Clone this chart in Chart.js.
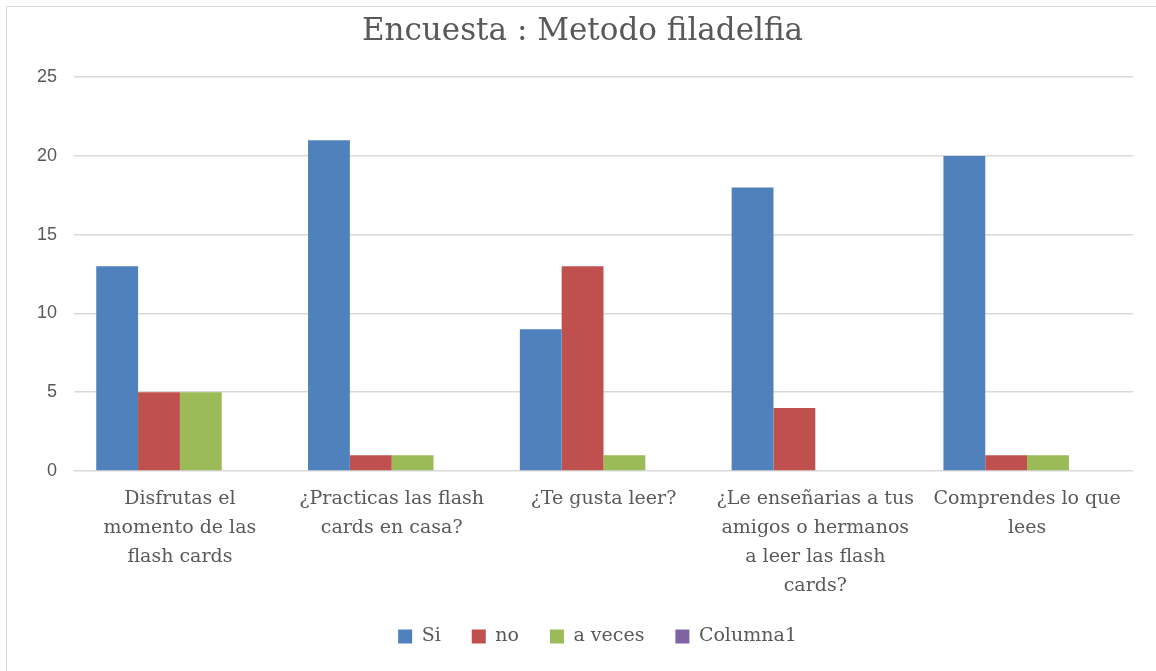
<!DOCTYPE html>
<html>
<head>
<meta charset="utf-8">
<script src="https://cdn.jsdelivr.net/npm/chart.js@4"></script>
<style>
  html, body { margin: 0; padding: 0; background: #fff; }
  #wrap { position: absolute; left: 6px; top: 6px; width: 1150px; height: 665px; border: 1px solid #d9d9d9; border-right: none; border-bottom: none; }
  canvas { position: absolute; left: 0; top: 0; }
</style>
</head>
<body>
<div id="wrap"></div>
<canvas id="c" width="1156" height="671"></canvas>
<script>
const categories = [
  ['Disfrutas el', 'momento de las', 'flash cards'],
  ['¿Practicas las flash', 'cards en casa?'],
  ['¿Te gusta leer?'],
  ['¿Le enseñarias a tus', 'amigos o hermanos', 'a leer las flash', 'cards?'],
  ['Comprendes lo que', 'lees']
]
const si = [13, 21, 9, 18, 20]
const no = [5, 1, 13, 4, 1]
const aVeces = [5, 1, 1, 0, 1]
const columna1 = [null, null, null, null, null]

const serif = "'DejaVu Serif', serif"
const gray = '#595959'

const bar = (label, data, color) => ({ label, data, backgroundColor: color, borderWidth: 0 })

// nudge title and legend a bit to the right, like the original
const nudge = {
  id: 'nudge',
  afterLayout(chart) {
    const shift = (box, d) => { if (box) { box.left += d; box.right += d } }
    shift(chart.titleBlock, 6)
    shift(chart.legend, 21)
  }
}

new Chart(document.getElementById('c'), {
  type: 'bar',
  data: {
    labels: categories,
    datasets: [
      bar('Si', si, '#4f81bd'),
      bar('no', no, '#c0504d'),
      bar('a veces', aVeces, '#9bbb59'),
      bar('Columna1', columna1, '#8064a2')
    ]
  },
  plugins: [nudge],
  options: {
    responsive: false,
    animation: false,
    layout: { padding: { left: 20, right: 23, top: 4, bottom: 15 } },
    datasets: { bar: { barPercentage: 1, categoryPercentage: 0.79 } },
    plugins: {
      title: { display: true, text: 'Encuesta : Metodo filadelfia', color: gray, font: { family: serif, size: 31, weight: 'normal' }, padding: { top: 9, bottom: 27 } },
      legend: { position: 'bottom', labels: { color: gray, boxWidth: 14, boxHeight: 14, padding: 31, font: { family: serif, size: 19 } } },
      tooltip: { enabled: false }
    },
    scales: {
      x: {
        grid: { display: false },
        border: { display: false },
        afterFit: s => { s.height = 125 },
        ticks: { color: gray, maxRotation: 0, autoSkip: false, padding: 6, font: { family: serif, size: 19, lineHeight: '29px' } }
      },
      y: {
        min: 0, max: 25,
        grid: { color: '#d9d9d9', lineWidth: 1.5, drawTicks: false },
        border: { display: false },
        afterFit: s => { s.width = 54 },
        ticks: { stepSize: 5, color: gray, padding: 17, font: { family: "'Liberation Sans', sans-serif", size: 18 } }
      }
    }
  }
})
</script>
</body>
</html>
